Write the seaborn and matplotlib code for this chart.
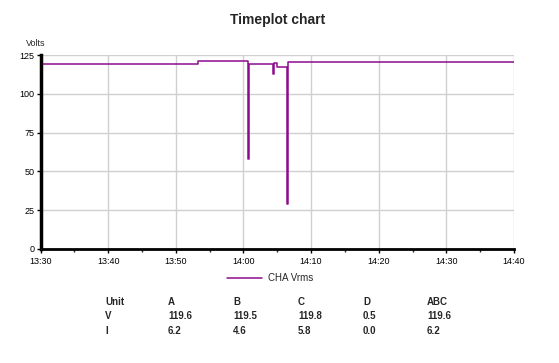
import pandas as pd
import seaborn as sns
import matplotlib.pyplot as plt

# data (minutes after 13:30, volts)
minutes = [0, 23.3, 30.7, 30.85, 34.3, 34.45, 35.0, 36.45, 36.6, 70]
volts = [119.5, 121.0, 58.0, 119.5, 112.5, 120.0, 117.5, 29.0, 120.3, 120.3]
tick_minutes = [0, 10, 20, 30, 40, 50, 60, 70]
tick_labels = ["13:30", "13:40", "13:50", "14:00", "14:10", "14:20", "14:30", "14:40"]
y_ticks = [0, 25, 50, 75, 100, 125]

table_cols = ["Unit", "A", "B", "C", "D", "ABC"]
table_v = ["V", "119.6", "119.5", "119.8", "0.5", "119.6"]
table_i = ["I", "6.2", "4.6", "5.8", "0.0", "6.2"]

df = pd.DataFrame({"t": minutes, "v": volts})

sns.set_style("white")
plt.rcParams['font.family'] = ['Liberation Sans', 'DejaVu Sans']

fig = plt.figure(figsize=(5.59, 3.63), dpi=100)
ax = fig.add_axes([40.5 / 559, 1 - 249 / 363, (514 - 40.5) / 559, (249 - 55) / 363])

sns.lineplot(data=df, x="t", y="v", ax=ax, color="#8e0a8e", linewidth=1.1,
             drawstyle="steps-post", label="CHA Vrms", legend=False)

ax.set_xlim(0, 70)
ax.set_ylim(0, 125)
ax.set_xticks(tick_minutes)
ax.set_xticklabels(tick_labels)
ax.set_xticks([5, 15, 25, 35, 45, 55, 65], minor=True)
ax.set_yticks(y_ticks)
ax.tick_params(axis="both", labelsize=6.5, length=3, width=1, colors="black", pad=1.5)
ax.tick_params(axis="x", pad=3)
ax.tick_params(axis="x", which="minor", length=2.5, width=1)
ax.tick_params(axis="x", which="both", bottom=True)
ax.tick_params(axis="y", left=True)
ax.grid(True, color="#d0d0d0", linewidth=1)
ax.set_axisbelow(True)
ax.set_xlabel("")
ax.set_ylabel("")
for s in ["top", "right"]:
    ax.spines[s].set_visible(False)
ax.spines["left"].set_linewidth(2.5)
ax.spines["bottom"].set_linewidth(2)
ax.spines["left"].set_color("black")
ax.spines["bottom"].set_color("black")

fig.text(278 / 559, 1 - 20 / 363, "Timeplot chart", ha="center", va="center",
         fontsize=10, fontweight="bold")
fig.text(26 / 559, 1 - 44 / 363, "Volts", ha="left", va="center", fontsize=6.5)

# legend below the axis
fig.legend(*ax.get_legend_handles_labels(), loc="center left",
           bbox_to_anchor=(227 / 559, 1 - 278 / 363), borderpad=0, borderaxespad=0,
           frameon=False, fontsize=7, handlelength=3.6, handletextpad=0.6)

col_x = [105, 168, 233, 298, 363, 427]
for row, y in zip([table_cols, table_v, table_i], [302, 316, 331]):
    for txt, x in zip(row, col_x):
        fig.text(x / 559, 1 - y / 363, txt, ha="left", va="center",
                 fontsize=7, fontweight="bold")

fig.savefig("out.png", dpi=100)
